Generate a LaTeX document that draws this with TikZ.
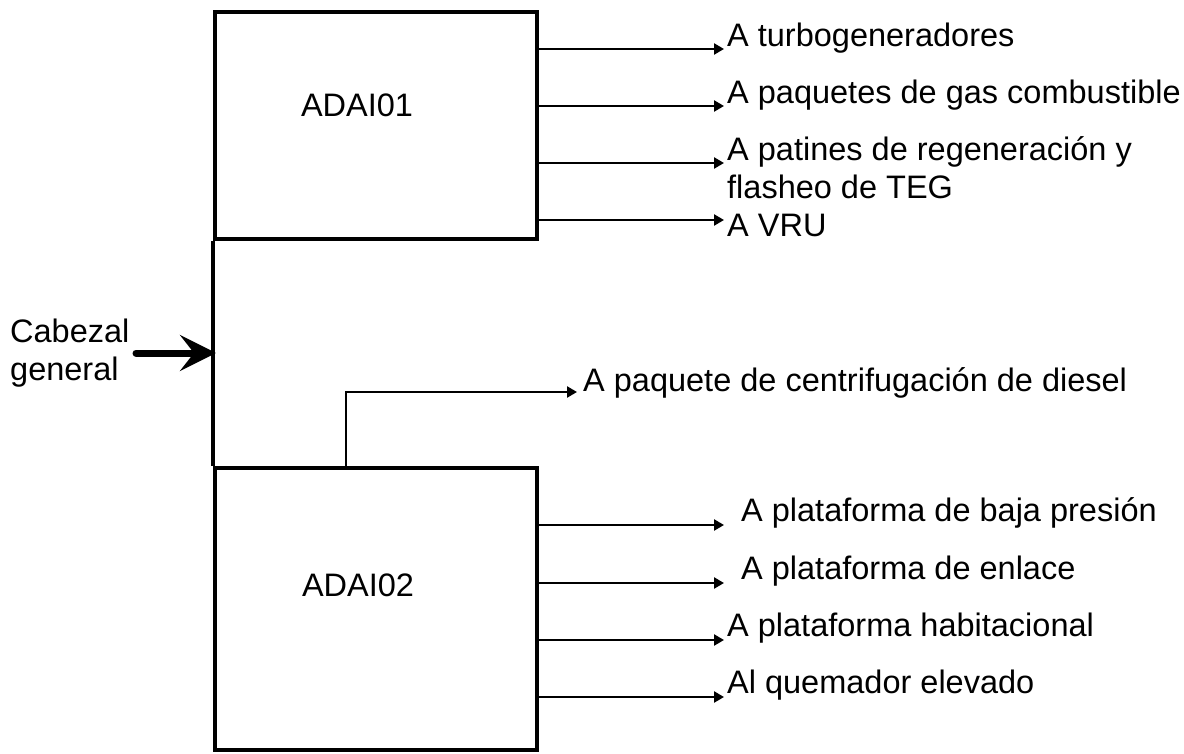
\documentclass[tikz,border=0pt]{standalone}
\usepackage{fontspec}
\setmainfont{Liberation Sans}
\usetikzlibrary{arrows.meta}
\begin{document}
\begin{tikzpicture}[x=1pt,y=-1pt,
  box/.style={draw,line width=4.5pt,inner sep=0pt,minimum width=322pt},
  lbl/.style={font=\fontsize{32.5}{38}\selectfont,inner sep=0pt},
  flow/.style={line width=2.5pt,-{Triangle[length=10pt,width=11pt]}},
  trunk/.style={line width=4.5pt},
  feed/.style={line width=7pt,line cap=round,-{Stealth[length=36pt,width=36pt,inset=14pt]}}]
\useasboundingbox (0,0) rectangle (1184,754);

% boxes
\node[box,minimum height=227pt] (b1) at (376,125.5) {};
\node[box,minimum height=282pt] (b2) at (376,609) {};
\node[lbl] (l1) at (357,105) {ADAI01};
\node[lbl] (l2) at (358,585) {ADAI02};

% trunk and feed
\draw[trunk] (b1.south west) -- (b2.north west);
\coordinate (in) at (216,353);
\node[lbl,anchor=base west,align=left] (cab) at (10,342) {\begin{tabular}[t]{@{}l@{}}Cabezal\\general\end{tabular}};
\coordinate (fs) at (136,353);
\draw[feed] (fs) -- (in);

% branch to diesel
\coordinate (br) at (346,468);
\coordinate (e0) at (577,392);
\node[lbl,anchor=base west] (t0) at (583,391) {A paquete de centrifugación de diesel};
\draw[flow] (br) |- (e0);

% outputs of ADAI01
\coordinate (e1) at (724,49);
\coordinate (e2) at (724,106);
\coordinate (e3) at (724,163);
\coordinate (e4) at (724,220);
\node[lbl,anchor=base west] (t1) at (727,47) {A turbogeneradores};
\node[lbl,anchor=base west] (t2) at (727,104) {A paquetes de gas combustible};
\node[lbl,anchor=base west] (t3) at (727,161) {\begin{tabular}[t]{@{}l@{}}A patines de regeneración y\\flasheo de TEG\end{tabular}};
\node[lbl,anchor=base west] (t4) at (727,237) {A VRU};
\foreach \e in {e1,e2,e3,e4}{\draw[flow] (b1.east |- \e) -- (\e);}

% outputs of ADAI02
\coordinate (e5) at (724,525);
\coordinate (e6) at (724,583);
\coordinate (e7) at (724,640);
\coordinate (e8) at (724,697);
\node[lbl,anchor=base west] (t5) at (741,521) {A plataforma de baja presión};
\node[lbl,anchor=base west] (t6) at (741,579) {A plataforma de enlace};
\node[lbl,anchor=base west] (t7) at (727,636) {A plataforma habitacional};
\node[lbl,anchor=base west] (t8) at (727,693) {Al quemador elevado};
\foreach \e in {e5,e6,e7,e8}{\draw[flow] (b2.east |- \e) -- (\e);}
\end{tikzpicture}
\end{document}
